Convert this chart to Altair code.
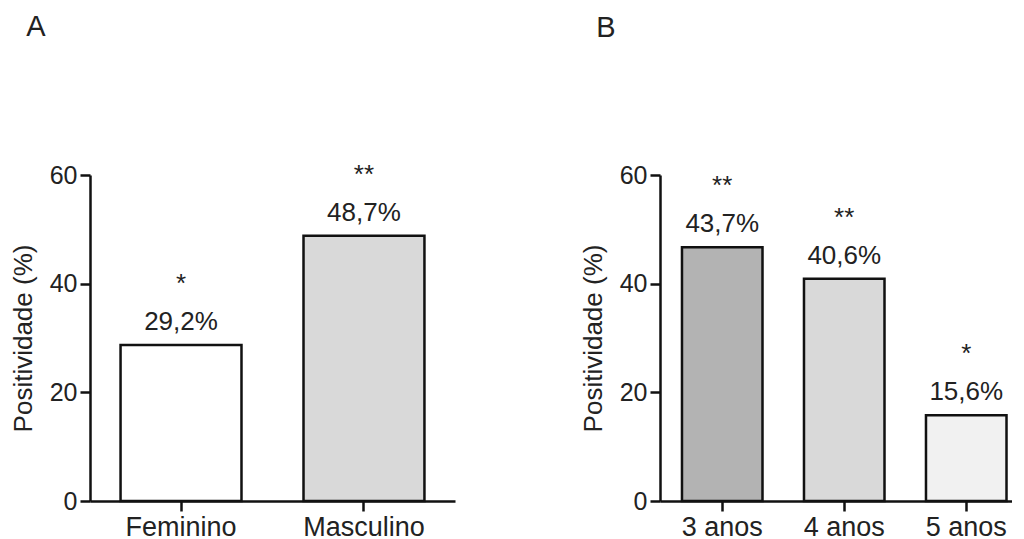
import altair as alt
import pandas as pd

# Panel A data
cat_a = ["Feminino", "Masculino"]
val_a = [28.7, 48.8]
pct_a = ["29,2%", "48,7%"]
sig_a = ["*", "**"]
fill_a = ["#ffffff", "#d9d9d9"]

# Panel B data
cat_b = ["3 anos", "4 anos", "5 anos"]
val_b = [46.7, 40.9, 15.8]
pct_b = ["43,7%", "40,6%", "15,6%"]
sig_b = ["**", "**", "*"]
fill_b = ["#b3b3b3", "#d9d9d9", "#f1f1f1"]

y_ticks = [0, 20, 40, 60]

FONT = "Liberation Sans"
TXT = "#222222"


def panel(cats, vals, pcts, sigs, fills, letter, width, pin, pout, align):
    df = pd.DataFrame({"cat": cats, "val": vals, "pct": pcts, "sig": sigs, "fill": fills})
    x = alt.X(
        "cat:N", sort=cats, title=None,
        scale=alt.Scale(paddingInner=pin, paddingOuter=pout, align=align),
        axis=alt.Axis(labelAngle=0, labelPadding=3, labelFontSize=27),
    )
    y = alt.Y(
        "val:Q", title="Positividade (%)",
        scale=alt.Scale(domain=[0, 60], nice=False),
        axis=alt.Axis(values=y_ticks, labelPadding=3, titlePadding=13, format="d", labelFontSize=25),
    )
    base = alt.Chart(df).encode(x=x, y=y)
    bars = base.mark_bar(stroke="#111111", strokeWidth=2.5).encode(
        fill=alt.Fill("fill:N", scale=None)
    )
    pct = base.mark_text(dy=-15, baseline="alphabetic", fontSize=26, font=FONT, color=TXT).encode(
        text="pct:N"
    )
    star = base.mark_text(dy=-53, baseline="alphabetic", fontSize=26, font=FONT, color=TXT).encode(
        text="sig:N"
    )
    return alt.layer(bars, pct, star).properties(
        width=width,
        height=326,
        title=alt.TitleParams(
            letter, anchor="start", frame="bounds", dx=16, baseline="alphabetic",
            offset=97, fontSize=29, font=FONT, fontWeight="normal", color=TXT,
        ),
    )


pa = panel(cat_a, val_a, pct_a, sig_a, fill_a, "A", 365, 0.339, 0.167, 0.5)
pb = panel(cat_b, val_b, pct_b, sig_b, fill_b, "B", 352, 0.34, 0.1126, 0.80)

chart = alt.hconcat(pa, pb, spacing=125).configure(
    padding={"left": 2, "top": 4, "right": 0, "bottom": 0}
).configure_view(stroke=None).configure_axis(
    grid=False,
    domainColor="#111111",
    domainWidth=2.5,
    tickColor="#111111",
    tickWidth=2.5,
    tickSize=10,
    labelFont=FONT,
    labelColor=TXT,
    titleFont=FONT,
    titleFontSize=26,
    titleFontWeight="normal",
    titleColor=TXT,
)

chart.save("out.html", embed_options={"renderer": "svg", "actions": False})
